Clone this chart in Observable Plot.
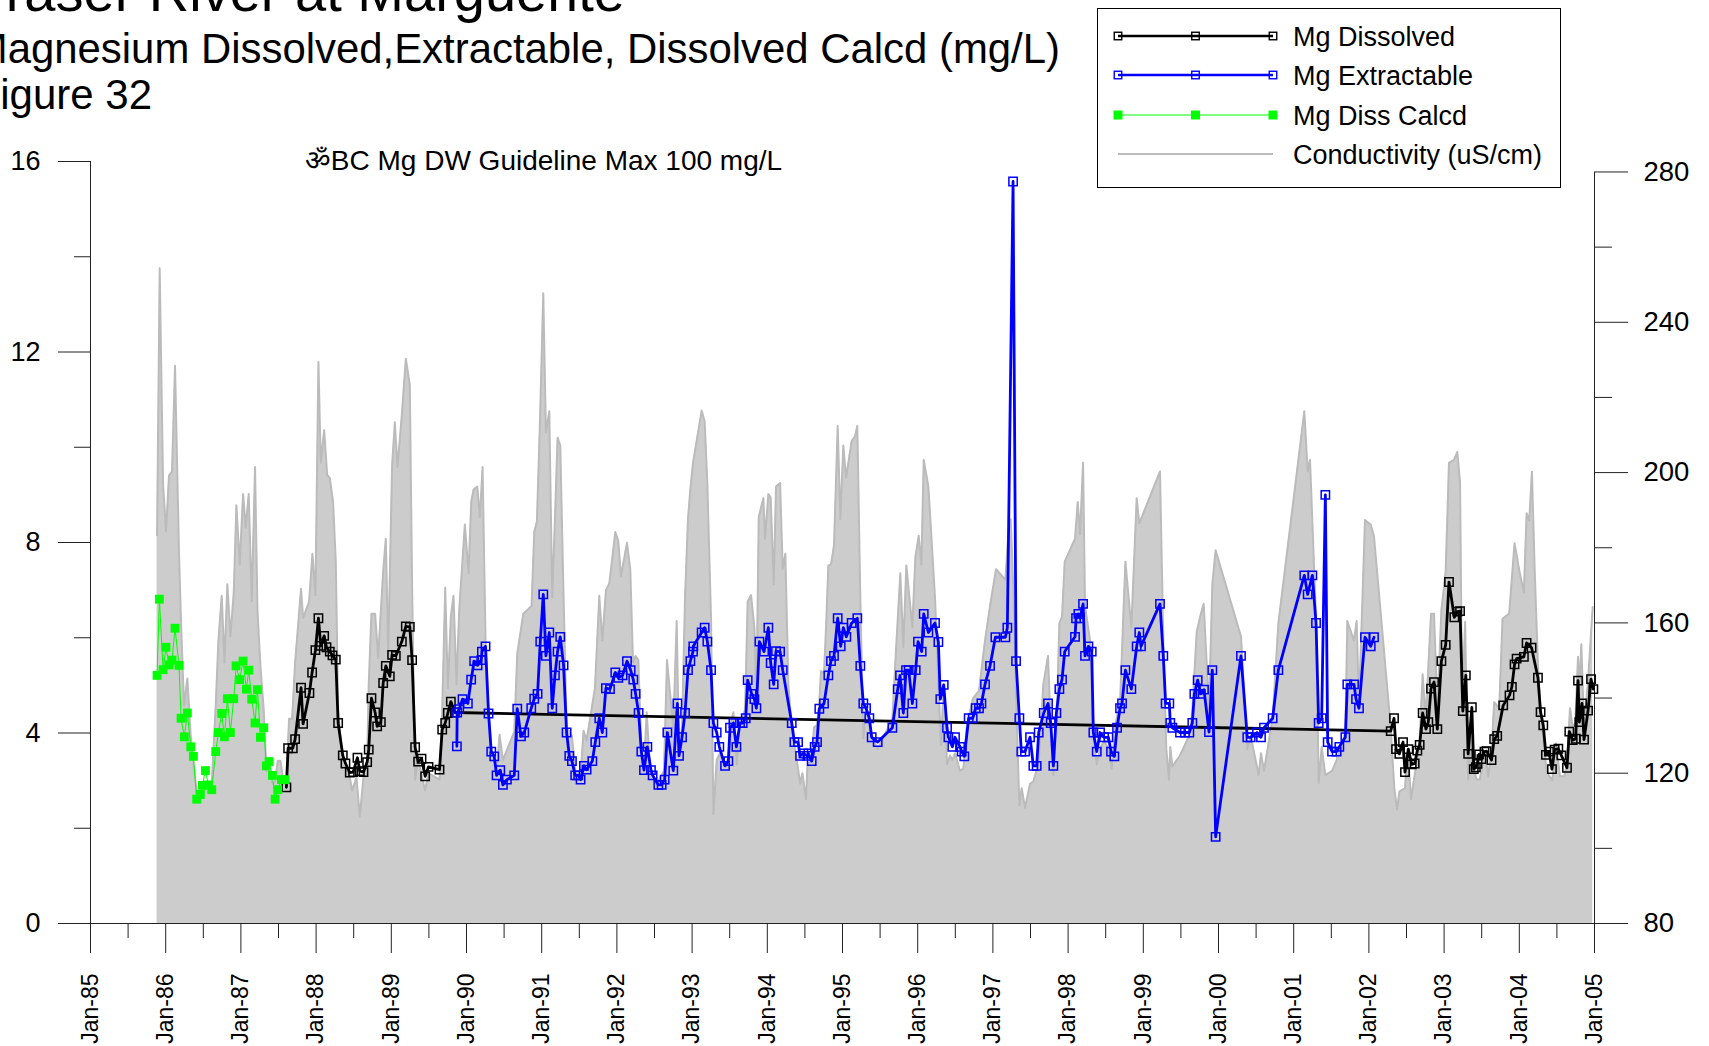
<!DOCTYPE html>
<html>
<head>
<meta charset="utf-8">
<style>
html,body{margin:0;padding:0;background:#fff;width:1709px;height:1046px;overflow:hidden;font-family:"Liberation Sans",Arial,sans-serif}
.t{position:absolute;white-space:nowrap;color:#000;line-height:1}
#chart{position:absolute;left:0;top:0}
#legend{position:absolute;left:1097px;top:8px}
</style>
<script src="https://cdn.jsdelivr.net/npm/d3@7"></script>
<script src="https://cdn.jsdelivr.net/npm/@observablehq/plot@0.6"></script>
</head>
<body>
<div id="chart"></div>
<div class="t" style="right:1084px;top:-36px;font-size:56px">Fraser River at Marguerite</div>
<div class="t" style="right:649px;top:28px;font-size:41.9px">Magnesium Dissolved,Extractable, Dissolved Calcd (mg/L)</div>
<div class="t" style="right:1557px;top:74px;font-size:42px">Figure 32</div>
<div id="legend"></div>
<script>
const mgCalcd=[[1985.885,5.21],[1985.916,6.81],[1985.965,5.33],[1986.004,5.8],[1986.044,5.43],[1986.084,5.53],[1986.124,6.2],[1986.177,5.42],[1986.204,4.31],[1986.248,3.92],[1986.288,4.42],[1986.333,3.71],[1986.368,3.51],[1986.412,2.61],[1986.461,2.71],[1986.488,2.9],[1986.528,3.21],[1986.568,2.91],[1986.612,2.81],[1986.665,3.61],[1986.701,4.01],[1986.745,4.41],[1986.781,3.92],[1986.82,4.72],[1986.86,4.01],[1986.905,4.72],[1986.936,5.41],[1986.984,5.12],[1987.029,5.51],[1987.073,4.92],[1987.104,5.32],[1987.144,4.71],[1987.188,4.21],[1987.22,4.91],[1987.26,3.91],[1987.304,4.11],[1987.339,3.31],[1987.375,3.4],[1987.419,3.11],[1987.455,2.61],[1987.49,2.81],[1987.539,3.02],[1987.588,3.02]];
const mgDissolved=[[1987.605,2.86],[1987.628,3.68],[1987.69,3.68],[1987.721,3.87],[1987.8,4.95],[1987.827,4.19],[1987.911,4.84],[1987.947,5.27],[1987.991,5.74],[1988.031,6.41],[1988.062,5.83],[1988.107,6.04],[1988.138,5.8],[1988.182,5.71],[1988.218,5.63],[1988.262,5.54],[1988.293,4.21],[1988.355,3.53],[1988.39,3.36],[1988.448,3.17],[1988.492,3.18],[1988.55,3.48],[1988.581,3.2],[1988.63,3.18],[1988.679,3.39],[1988.7,3.65],[1988.736,4.73],[1988.785,4.43],[1988.812,4.14],[1988.861,4.23],[1988.892,5.05],[1988.927,5.41],[1988.98,5.19],[1989.011,5.64],[1989.06,5.62],[1989.14,5.92],[1989.193,6.24],[1989.246,6.23],[1989.277,5.53],[1989.317,3.7],[1989.357,3.4],[1989.402,3.46],[1989.45,3.09],[1989.495,3.29],[1989.641,3.23],[1989.677,4.07],[1989.717,4.21],[1989.752,4.42],[1989.792,4.66],[1989.845,4.43],
[2002.29,4.04],[2002.334,4.31],[2002.361,3.66],[2002.405,3.56],[2002.454,3.81],[2002.48,3.18],[2002.525,3.66],[2002.569,3.34],[2002.609,3.36],[2002.644,3.63],[2002.675,3.75],[2002.715,4.42],[2002.759,4.08],[2002.79,4.23],[2002.826,4.93],[2002.866,5.07],[2002.91,4.08],[2002.964,5.51],[2003.021,5.85],[2003.065,7.17],[2003.136,6.43],[2003.176,6.55],[2003.212,6.56],[2003.249,4.46],[2003.289,5.21],[2003.32,3.56],[2003.369,4.54],[2003.395,3.24],[2003.422,3.28],[2003.444,3.35],[2003.466,3.55],[2003.497,3.45],[2003.537,3.61],[2003.564,3.62],[2003.631,3.43],[2003.666,3.87],[2003.706,3.94],[2003.786,4.58],[2003.87,4.79],[2003.901,4.97],[2003.937,5.44],[2003.964,5.56],[2004.061,5.6],[2004.097,5.89],[2004.163,5.79],[2004.248,5.16],[2004.283,4.44],[2004.319,4.16],[2004.354,3.54],[2004.394,3.61],[2004.434,3.24],[2004.47,3.65],[2004.519,3.67],[2004.559,3.53],[2004.634,3.27],[2004.665,4.03],[2004.71,3.85],[2004.75,3.88],[2004.781,5.1],[2004.798,4.23],[2004.834,4.62],[2004.861,3.86],[2004.914,4.47],[2004.954,5.13],[2004.985,4.92]];
const mgExtractable=[[1989.872,3.72],[1989.876,4.43],[1989.903,4.5],[1989.947,4.71],[1990.018,4.62],[1990.062,5.12],[1990.102,5.51],[1990.147,5.42],[1990.196,5.53],[1990.205,5.71],[1990.253,5.82],[1990.293,4.41],[1990.329,3.61],[1990.369,3.51],[1990.4,3.11],[1990.449,3.22],[1990.484,2.91],[1990.537,3.02],[1990.635,3.11],[1990.675,4.51],[1990.724,3.93],[1990.768,4.01],[1990.861,4.52],[1990.901,4.72],[1990.945,4.82],[1990.981,5.92],[1991.021,6.91],[1991.056,5.62],[1991.101,6.11],[1991.14,4.52],[1991.176,5.21],[1991.211,5.71],[1991.247,6.02],[1991.291,5.42],[1991.331,4.01],[1991.367,3.52],[1991.402,3.41],[1991.446,3.11],[1991.486,3.11],[1991.517,3.02],[1991.562,3.31],[1991.597,3.23],[1991.673,3.41],[1991.713,3.81],[1991.766,4.31],[1991.806,4.01],[1991.854,4.94],[1991.908,4.92],[1991.979,5.27],[1992.019,5.16],[1992.076,5.21],[1992.134,5.51],[1992.183,5.32],[1992.218,5.12],[1992.249,4.82],[1992.289,4.42],[1992.325,3.61],[1992.36,3.22],[1992.405,3.71],[1992.453,3.22],[1992.475,3.11],[1992.551,2.91],[1992.595,2.91],[1992.635,3.02],[1992.671,4.01],[1992.75,3.21],[1992.804,4.62],[1992.826,3.52],[1992.866,3.91],[1992.906,4.42],[1992.945,5.32],[1992.977,5.51],[1993.012,5.71],[1993.016,5.82],[1993.127,6.11],[1993.167,6.21],[1993.203,5.92],[1993.252,5.32],[1993.283,4.21],[1993.327,4.01],[1993.362,3.71],[1993.438,3.31],[1993.482,3.41],[1993.504,4.11],[1993.549,4.21],[1993.589,3.71],[1993.637,4.21],[1993.673,4.21],[1993.713,4.31],[1993.739,5.11],[1993.792,4.82],[1993.828,4.71],[1993.855,4.52],[1993.895,5.92],[1993.957,5.71],[1994.014,6.21],[1994.045,5.47],[1994.085,5.02],[1994.116,5.72],[1994.17,5.71],[1994.205,5.32],[1994.325,4.21],[1994.36,3.81],[1994.409,3.81],[1994.436,3.52],[1994.48,3.57],[1994.533,3.52],[1994.546,3.57],[1994.59,3.41],[1994.63,3.71],[1994.661,3.81],[1994.692,4.51],[1994.754,4.62],[1994.812,5.21],[1994.847,5.51],[1994.887,5.62],[1994.936,6.41],[1994.976,5.82],[1995.011,6.21],[1995.051,6.02],[1995.122,6.31],[1995.197,6.41],[1995.237,5.41],[1995.277,4.62],[1995.313,4.52],[1995.357,4.31],[1995.388,3.91],[1995.468,3.81],[1995.663,4.11],[1995.734,4.92],[1995.765,5.21],[1995.809,4.42],[1995.845,5.32],[1995.88,5.32],[1995.929,4.62],[1995.973,5.32],[1996.004,5.92],[1996.053,5.71],[1996.08,6.5],[1996.142,6.11],[1996.23,6.31],[1996.275,5.91],[1996.301,4.71],[1996.346,5.01],[1996.39,4.11],[1996.408,3.91],[1996.461,3.71],[1996.496,3.91],[1996.563,3.71],[1996.585,3.61],[1996.62,3.51],[1996.678,4.31],[1996.731,4.31],[1996.771,4.52],[1996.815,4.52],[1996.847,4.62],[1996.895,5.02],[1996.962,5.41],[1997.033,6.01],[1997.166,6.01],[1997.192,6.21],[1997.268,15.58],[1997.308,5.51],[1997.352,4.31],[1997.378,3.61],[1997.427,3.61],[1997.494,3.91],[1997.538,3.31],[1997.582,3.31],[1997.609,4.01],[1997.676,4.42],[1997.733,4.62],[1997.769,4.21],[1997.804,3.31],[1997.844,4.42],[1997.884,4.92],[1997.919,5.12],[1997.955,5.71],[1998.092,6.02],[1998.106,6.41],[1998.137,6.5],[1998.159,6.41],[1998.199,6.71],[1998.225,5.62],[1998.27,5.82],[1998.314,5.71],[1998.336,4.01],[1998.381,3.61],[1998.425,4.01],[1998.478,3.91],[1998.536,3.91],[1998.571,3.61],[1998.615,3.51],[1998.651,4.11],[1998.691,4.52],[1998.717,4.62],[1998.762,5.32],[1998.841,4.92],[1998.912,5.82],[1998.947,6.11],[1998.969,5.82],[1999.222,6.71],[1999.266,5.62],[1999.297,4.62],[1999.346,4.62],[1999.359,4.21],[1999.386,4.11],[1999.488,4.01],[1999.554,4.01],[1999.612,4.01],[1999.652,4.21],[1999.679,4.82],[1999.723,5.11],[1999.763,4.82],[1999.807,4.91],[1999.874,4.02],[1999.918,5.32],[1999.962,1.82],[2000.299,5.62],[2000.383,3.91],[2000.428,3.91],[2000.512,4.01],[2000.565,3.91],[2000.605,4.11],[2000.72,4.31],[2000.796,5.32],[2001.141,7.31],[2001.186,6.91],[2001.248,7.31],[2001.297,6.31],[2001.332,4.21],[2001.372,4.31],[2001.421,9.0],[2001.452,3.81],[2001.51,3.61],[2001.571,3.61],[2001.607,3.71],[2001.687,3.91],[2001.713,5.02],[2001.802,5.02],[2001.829,4.71],[2001.868,4.52],[2001.948,6.01],[2002.024,5.82],[2002.068,6.01]];
const conductivity=[[1985.885,183.3],[1985.92,254.4],[1985.965,196.9],[1986.004,184.4],[1986.044,199.2],[1986.084,200.3],[1986.124,228.4],[1986.177,178.4],[1986.208,157.6],[1986.244,138],[1986.288,145.2],[1986.333,129.9],[1986.368,123],[1986.412,114.9],[1986.475,115.4],[1986.528,116.6],[1986.568,116.6],[1986.612,117.2],[1986.665,138],[1986.701,155.3],[1986.745,167.2],[1986.781,149.5],[1986.82,170.3],[1986.86,156.4],[1986.905,168],[1986.94,191.3],[1986.984,175.5],[1987.029,194.3],[1987.064,185.3],[1987.104,194.3],[1987.144,165.7],[1987.188,201.5],[1987.22,163.4],[1987.26,148.4],[1987.304,136.8],[1987.339,120.6],[1987.384,120.6],[1987.419,117.2],[1987.455,117.8],[1987.49,123.3],[1987.526,123.3],[1987.57,117.2],[1987.605,118.9],[1987.641,134.5],[1987.681,134.5],[1987.721,149.5],[1987.8,169.1],[1987.827,161.3],[1987.907,165.7],[1987.951,178.4],[1987.991,167.4],[1988.031,229.4],[1988.062,202.6],[1988.107,211.3],[1988.147,199.4],[1988.182,198.6],[1988.226,192.2],[1988.262,176.1],[1988.293,136.8],[1988.355,121.8],[1988.39,121.8],[1988.448,118.9],[1988.479,115.4],[1988.537,118.9],[1988.581,108.5],[1988.63,118.9],[1988.679,123.5],[1988.7,143.7],[1988.736,162.4],[1988.785,162.4],[1988.825,150.7],[1988.892,173.8],[1988.927,182.4],[1988.958,151.8],[1989.011,202],[1989.047,213.4],[1989.082,201.5],[1989.14,215.3],[1989.193,230.3],[1989.246,223.4],[1989.277,169.1],[1989.317,118.3],[1989.357,124.1],[1989.402,119.5],[1989.45,115.4],[1989.495,120],[1989.641,118.3],[1989.677,136.8],[1989.717,169.4],[1989.752,142.6],[1989.792,161.6],[1989.827,167.2],[1989.867,143.7],[1989.903,163.4],[1989.978,186.2],[1990.027,173.2],[1990.063,192.2],[1990.094,195.5],[1990.143,196.3],[1990.178,188.2],[1990.214,201.5],[1990.253,155.3],[1990.293,135.9],[1990.329,126.4],[1990.4,120.6],[1990.44,130.2],[1990.484,123.5],[1990.635,131],[1990.675,151.8],[1990.755,162.4],[1990.865,164.5],[1990.901,184.2],[1990.936,187],[1990.976,213],[1991.021,247.7],[1991.056,210.7],[1991.101,216.3],[1991.14,166.8],[1991.176,187.6],[1991.211,209.3],[1991.247,207.2],[1991.291,166.8],[1991.331,132.2],[1991.402,129.9],[1991.446,120.6],[1991.517,119.5],[1991.557,131.3],[1991.597,128.7],[1991.708,142.6],[1991.766,167.2],[1991.806,155.3],[1991.854,168.6],[1991.899,170.5],[1991.979,184.2],[1992.019,181.8],[1992.054,172.4],[1992.134,181.3],[1992.178,174.3],[1992.214,149.5],[1992.249,151.2],[1992.285,150.1],[1992.325,126.4],[1992.36,121.8],[1992.396,136.2],[1992.44,121.8],[1992.529,117.2],[1992.626,120.6],[1992.666,150.1],[1992.75,132.2],[1992.795,160.5],[1992.826,125.8],[1992.866,132.2],[1992.906,166.8],[1992.945,187.6],[1992.977,195.7],[1993.012,202.6],[1993.127,216.5],[1993.167,213.6],[1993.203,196.9],[1993.252,161],[1993.283,109.1],[1993.327,123.5],[1993.371,125.3],[1993.438,121.8],[1993.482,124.1],[1993.513,133.3],[1993.549,136.2],[1993.593,122.4],[1993.637,133.3],[1993.704,136.8],[1993.739,165.7],[1993.784,167.4],[1993.828,158.8],[1993.855,138],[1993.886,188.2],[1993.948,193.2],[1993.97,182.4],[1994.014,194.3],[1994.045,193.4],[1994.085,170.3],[1994.116,196.3],[1994.17,197.2],[1994.205,174.3],[1994.24,178.4],[1994.28,143.7],[1994.325,132.2],[1994.369,126.4],[1994.409,121.2],[1994.436,117.2],[1994.467,120],[1994.515,113.1],[1994.533,121.8],[1994.59,124.1],[1994.621,132.2],[1994.661,132.8],[1994.692,139.1],[1994.714,147.2],[1994.754,146.6],[1994.781,158.8],[1994.812,175.3],[1994.847,175.5],[1994.887,180.7],[1994.936,212.4],[1994.971,187.6],[1995.011,207.2],[1995.047,198.6],[1995.122,208.4],[1995.166,209.6],[1995.197,212.4],[1995.237,166.8],[1995.277,129.3],[1995.313,138],[1995.388,129.9],[1995.468,126.4],[1995.663,134.5],[1995.712,153],[1995.769,173.2],[1995.809,153.6],[1995.849,175.3],[1995.929,158.8],[1995.969,177.5],[1996.013,183.2],[1996.049,175.5],[1996.08,203.4],[1996.142,196.3],[1996.23,166.8],[1996.275,143.7],[1996.31,127.6],[1996.346,143.7],[1996.39,122.4],[1996.43,124.7],[1996.461,123.5],[1996.496,125.3],[1996.563,120.6],[1996.607,121.2],[1996.652,132.2],[1996.731,139.7],[1996.815,142],[1996.895,155.3],[1996.962,164.5],[1997.042,174.3],[1997.166,171.5],[1997.206,184.2],[1997.237,187.6],[1997.272,169.1],[1997.308,140.3],[1997.352,111.4],[1997.383,116],[1997.427,110.8],[1997.494,117.2],[1997.538,117.8],[1997.609,123],[1997.671,143.7],[1997.733,151.2],[1997.769,132.2],[1997.804,119.5],[1997.844,132.2],[1997.884,159.9],[1997.919,161.6],[1997.955,176.3],[1998.092,182.4],[1998.128,192.2],[1998.159,183.6],[1998.199,202.6],[1998.225,164.5],[1998.292,155.3],[1998.336,129.9],[1998.381,122.4],[1998.425,126.4],[1998.478,128.7],[1998.536,126.4],[1998.58,121.2],[1998.624,132.2],[1998.691,139.1],[1998.762,176.3],[1998.841,158.8],[1998.912,193.2],[1998.947,186.5],[1999.222,200.3],[1999.266,155.3],[1999.306,126.4],[1999.342,118.3],[1999.359,127],[1999.386,121.8],[1999.488,124.7],[1999.621,130.5],[1999.652,136.8],[1999.71,157.6],[1999.763,162.2],[1999.803,165.1],[1999.874,136.8],[1999.918,170.3],[1999.962,179.3],[2000.299,156.4],[2000.383,126.4],[2000.428,129.9],[2000.534,119.5],[2000.565,125.3],[2000.605,120.6],[2000.72,134.7],[2000.796,159.9],[2001.141,216.3],[2001.186,200.3],[2001.217,203.4],[2001.297,161],[2001.332,117.4],[2001.372,127],[2001.421,119.5],[2001.51,120.6],[2001.571,123.5],[2001.687,131],[2001.713,160.5],[2001.802,155.3],[2001.837,160.5],[2001.868,138],[2001.948,187.4],[2002.024,186.2],[2002.068,183],[2002.29,132.2],[2002.338,116],[2002.374,110.3],[2002.405,115.1],[2002.48,116],[2002.516,126.4],[2002.56,113.1],[2002.635,123],[2002.675,128.7],[2002.715,146.3],[2002.755,134.5],[2002.826,162.4],[2002.866,162.4],[2002.91,136.8],[2002.964,163.4],[2003.021,173.8],[2003.065,202.6],[2003.132,203.4],[2003.176,205.5],[2003.212,197.4],[2003.24,137.8],[2003.28,160.3],[2003.289,148.8],[2003.32,118.3],[2003.342,131.2],[2003.373,121.4],[2003.4,120.8],[2003.431,118.3],[2003.475,118.3],[2003.542,125.8],[2003.586,119.2],[2003.63,125.8],[2003.666,138.9],[2003.733,137.3],[2003.777,161.1],[2003.866,162.5],[2003.892,169.6],[2003.937,181.2],[2003.999,174],[2004.061,168],[2004.097,189.2],[2004.132,187.2],[2004.168,200.2],[2004.203,175.1],[2004.248,148.8],[2004.283,136.7],[2004.363,120.3],[2004.439,118.1],[2004.487,128],[2004.541,119.2],[2004.598,119.2],[2004.634,122.5],[2004.674,137.3],[2004.709,132.3],[2004.745,133.4],[2004.781,151],[2004.798,142.2],[2004.825,154.3],[2004.861,132.3],[2004.914,144.4],[2004.976,164.2]];

const yearTicks=[1985,1986,1987,1988,1989,1990,1991,1992,1993,1994,1995,1996,1997,1998,1999,2000,2001,2002,2003,2004,2005];
const yearLabels=["Jan-85","Jan-86","Jan-87","Jan-88","Jan-89","Jan-90","Jan-91","Jan-92","Jan-93","Jan-94","Jan-95","Jan-96","Jan-97","Jan-98","Jan-99","Jan-00","Jan-01","Jan-02","Jan-03","Jan-04","Jan-05"];
const halfYearTicks=yearTicks.slice(0,-1).map(y=>y+0.5);
const mgTicks=[0,4,8,12,16];
const mgMinorTicks=[2,6,10,14];
const condTicks=[80,120,160,200,240,280];
const condMinorTicks=[100,140,180,220,260];
const annotation="ॐBC Mg DW Guideline Max 100 mg/L";

const legendItems=[
 {label:"Mg Dissolved",stroke:"#000",width:2.6,marker:"open"},
 {label:"Mg Extractable",stroke:"#0000ff",width:2.6,marker:"open"},
 {label:"Mg Diss Calcd",stroke:"#00ff00",width:1,marker:"fill"},
 {label:"Conductivity (uS/cm)",stroke:"#bbbbbb",width:2,marker:null}
];

// The conductivity axis shares the frame but has its own scale.
const condToMg=d3.scaleLinear([80,280],[0,15.78]);
const FONT='"Liberation Sans",Arial,sans-serif';
const X=d=>d[0],Y=d=>d[1],YC=d=>condToMg(d[1]);
const INK="#222";

const chart=Plot.plot({
 width:1709,height:1046,
 marginLeft:90,marginRight:115,marginTop:161,marginBottom:123,
 style:{fontFamily:FONT,background:"#fff",color:"#000"},
 x:{domain:[1985,2005],label:null},
 y:{domain:[0,16],label:null},
 marks:[
  Plot.areaY(conductivity,{x:X,y1:0,y2:YC,fill:"#cccccc"}),
  Plot.line(conductivity,{x:X,y:YC,stroke:"#bbbbbb",strokeWidth:2}),
  Plot.ruleY([0],{stroke:INK,strokeWidth:1}),
  Plot.ruleX([1985],{y1:0,y2:16,stroke:INK,strokeWidth:1}),
  Plot.ruleX([2005],{y1:0,y2:15.78,stroke:INK,strokeWidth:1}),
  Plot.axisY({ticks:mgTicks,anchor:"left",tickSize:32,tickPadding:18,fontSize:27,stroke:INK,fill:"#000",label:null,tickFormat:d=>String(d)}),
  Plot.axisY({ticks:mgMinorTicks,anchor:"left",tickSize:16,stroke:INK,label:null,tickFormat:()=>""}),
  Plot.axisY({ticks:condTicks.map(d=>condToMg(d)),anchor:"right",tickSize:33,tickPadding:16,fontSize:27.5,stroke:INK,fill:"#000",label:null,tickFormat:d=>String(Math.round(condToMg.invert(d)))}),
  Plot.axisY({ticks:condMinorTicks.map(d=>condToMg(d)),anchor:"right",tickSize:17,stroke:INK,label:null,tickFormat:()=>""}),
  Plot.axisX({ticks:yearTicks,anchor:"bottom",tickSize:30,tickPadding:20,tickRotate:-90,fontSize:23,stroke:INK,fill:"#000",label:null,tickFormat:d=>yearLabels[yearTicks.indexOf(d)]}),
  Plot.axisX({ticks:halfYearTicks,anchor:"bottom",tickSize:15,stroke:INK,label:null,tickFormat:()=>""}),
  Plot.line(mgDissolved,{x:X,y:Y,stroke:"#000",strokeWidth:2.8}),
  Plot.dot(mgDissolved,{x:X,y:Y,symbol:"square",r:4.7,stroke:"#000",strokeWidth:1.5,fill:"none"}),
  Plot.line(mgExtractable,{x:X,y:Y,stroke:"#0000ff",strokeWidth:2.8}),
  Plot.dot(mgExtractable,{x:X,y:Y,symbol:"square",r:4.7,stroke:"#0000ff",strokeWidth:1.5,fill:"none"}),
  Plot.line(mgCalcd,{x:X,y:Y,stroke:"#00ff00",strokeWidth:1}),
  Plot.dot(mgCalcd,{x:X,y:Y,symbol:"square",r:5,fill:"#00ff00",stroke:"none"}),
  Plot.text([annotation],{x:1987.85,y:16,text:d=>d,textAnchor:"start",fontSize:28,fill:"#000",fontFamily:FONT})
 ]
});
document.getElementById("chart").append(chart);

// Legend
const lw=464,lh=180,rowY=[28,67,107,146];
const svg=d3.select("#legend").append("svg").attr("width",lw).attr("height",lh).style("display","block");
svg.append("rect").attr("x",.5).attr("y",.5).attr("width",lw-1).attr("height",lh-1).attr("fill","#fff").attr("stroke","#000");
legendItems.forEach((it,i)=>{
 const y=rowY[i];
 svg.append("line").attr("x1",21).attr("x2",176).attr("y1",y).attr("y2",y).attr("stroke",it.stroke).attr("stroke-width",it.width);
 if(it.marker){
  [21,98.5,176].forEach(x=>{
   const s=it.marker==="fill"?8:7.5;
   svg.append("rect").attr("x",x-s/2).attr("y",y-s/2).attr("width",s).attr("height",s)
    .attr("fill",it.marker==="fill"?it.stroke:"none").attr("stroke",it.stroke).attr("stroke-width",it.marker==="fill"?1:1.4);
  });
 }
 svg.append("text").attr("x",196).attr("y",y+10).attr("font-size",27).attr("font-family",FONT).attr("fill","#000").text(it.label);
});
</script>
</body>
</html>
